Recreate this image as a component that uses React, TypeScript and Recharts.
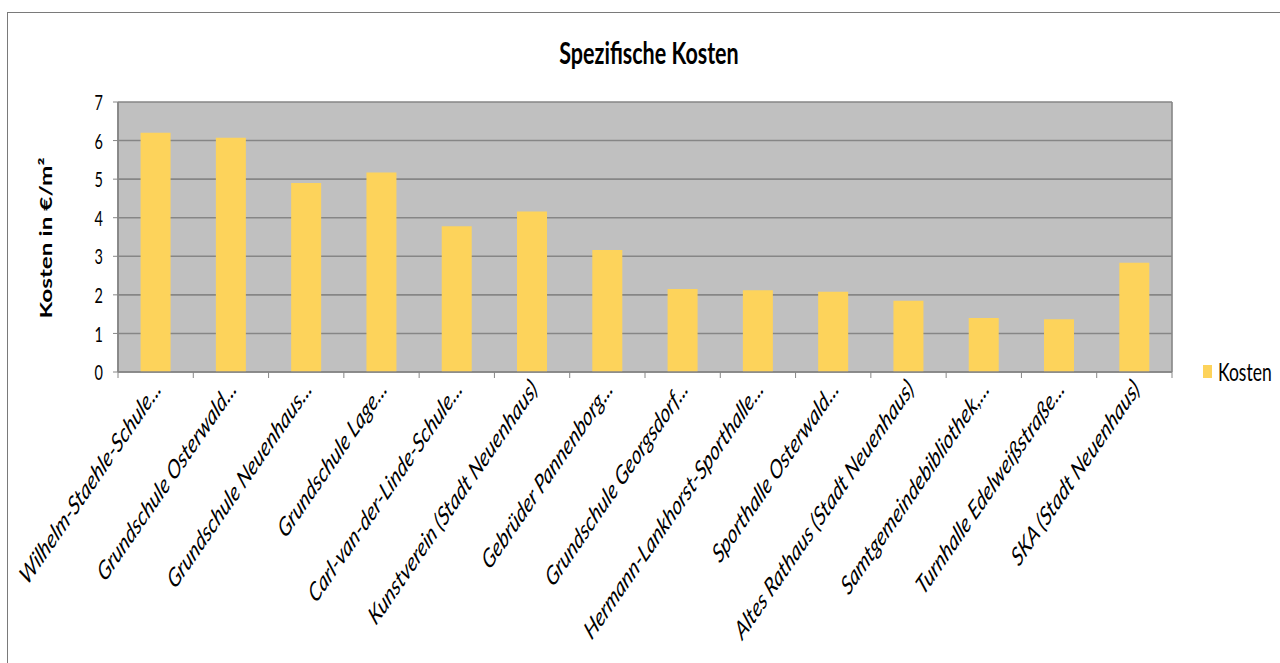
import React from 'react';
import { BarChart, Bar, XAxis, YAxis, CartesianGrid, Legend } from 'recharts';

const categories = [
  'Wilhelm-Staehle-Schule...',
  'Grundschule Osterwald...',
  'Grundschule Neuenhaus...',
  'Grundschule Lage...',
  'Carl-van-der-Linde-Schule...',
  'Kunstverein (Stadt Neuenhaus)',
  'Gebrüder Pannenborg...',
  'Grundschule Georgsdorf...',
  'Hermann-Lankhorst-Sporthalle...',
  'Sporthalle Osterwald...',
  'Altes Rathaus (Stadt Neuenhaus)',
  'Samtgemeindebibliothek,...',
  'Turnhalle Edelweißstraße...',
  'SKA (Stadt Neuenhaus)',
];
const kosten = [6.2, 6.07, 4.9, 5.17, 3.78, 4.16, 3.16, 2.15, 2.12, 2.08, 1.85, 1.4, 1.37, 2.83];
const yTicks = [0, 1, 2, 3, 4, 5, 6, 7];

const seriesName = 'Kosten';
const titleText = 'Spezifische Kosten';
const yLabelText = 'Kosten in €/m²';

const data = categories.map((name, i) => ({ name, Kosten: kosten[i] }));

const FONT = 'Lato, "Open Sans", sans-serif';
const GRID = '#868686';
const BAR = '#FDD35B';
const SY = 1.45;

const XTick = (props: any) => {
  const { x, y, payload, index } = props;
  const off = payload?.offset ?? 0;
  const last = index === categories.length - 1;
  const ax = x + 2;
  const ay = y + 12;
  return (
    <g>
      <line x1={x - off} x2={x - off} y1={y} y2={y + 6} stroke={GRID} strokeWidth={1} />
      {last && <line x1={x + off} x2={x + off} y1={y} y2={y + 6} stroke={GRID} strokeWidth={1} />}
      <text
        x={0}
        y={0}
        textAnchor="end"
        dy="0.35em"
        fontFamily={FONT}
        fontStyle="italic"
        fontSize={18}
        fill="#000"
        transform={`translate(${ax}, ${ay}) scale(1, ${SY}) rotate(-45)`}
      >
        {payload.value}
      </text>
    </g>
  );
};

const YTick = (props: any) => {
  const { x, y, payload } = props;
  return (
    <text
      x={0}
      y={0}
      textAnchor="end"
      dominantBaseline="central"
      fontFamily={FONT}
      fontSize={14.5}
      fill="#000"
      transform={`translate(${x}, ${y}) scale(1, ${SY})`}
    >
      {payload.value}
    </text>
  );
};

const LegendContent = () => (
  <div
    style={{
      display: 'flex',
      alignItems: 'center',
      width: 85,
      fontFamily: FONT,
      fontSize: 17.5,
      color: '#000',
      whiteSpace: 'nowrap',
    }}
  >
    <span style={{ display: 'inline-block', flexShrink: 0, width: 9, height: 13, background: BAR, marginRight: 6 }} />
    <span style={{ display: 'inline-block', flexShrink: 0, transform: `scaleY(${SY})` }}>{seriesName}</span>
  </div>
);

export default function App() {
  return (
    <div style={{ position: 'absolute', left: 0, top: 0, width: 1280, height: 663, background: '#fff', overflow: 'hidden' }}>
      <div
        style={{
          position: 'absolute',
          left: 7,
          top: 12,
          width: 1273,
          height: 651,
          borderLeft: '1px solid #7a7a7a',
          borderTop: '1px solid #7a7a7a',
        }}
      >
        <div
          style={{
            position: 'absolute',
            left: 0,
            top: 24,
            width: 1282,
            textAlign: 'center',
            fontFamily: FONT,
            fontWeight: 700,
            fontSize: 21.5,
            lineHeight: '30px',
            color: '#000',
            transform: `scaleY(${SY})`,
          }}
        >
          {titleText}
        </div>
        <BarChart
          width={1272}
          height={650}
          data={data}
          margin={{ top: 89, right: 108, bottom: 11, left: 60 }}
          barCategoryGap="30%"
        >
          <CartesianGrid
            fill="#C0C0C0"
            stroke={GRID}
            strokeWidth={1.6}
            vertical={true}
            verticalCoordinatesGenerator={({ offset }: any) => [offset.left, offset.left + offset.width]}
          />
          <XAxis
            dataKey="name"
            interval={0}
            height={280}
            tickLine={false}
            tickSize={0}
            tickMargin={0}
            axisLine={{ stroke: GRID, strokeWidth: 1.6 }}
            tick={<XTick />}
          />
          <YAxis
            width={50}
            domain={[0, 7]}
            ticks={yTicks}
            interval={0}
            tickSize={5}
            tickMargin={10}
            axisLine={{ stroke: GRID, strokeWidth: 1.6 }}
            tickLine={{ stroke: GRID }}
            tick={<YTick />}
            label={{
              content: ({ viewBox }: any) => {
                const cx = viewBox.x - 23;
                const cy = viewBox.y + viewBox.height / 2 + 1;
                return (
                  <text
                    x={0}
                    y={0}
                    textAnchor="middle"
                    dominantBaseline="central"
                    fontFamily={FONT}
                    fontWeight={700}
                    fontSize={16.8}
                    fill="#000"
                    transform={`translate(${cx}, ${cy}) scale(1, ${SY}) rotate(-90)`}
                  >
                    {yLabelText}
                  </text>
                );
              },
            }}
          />
          <Legend
            layout="vertical"
            verticalAlign="middle"
            align="right"
            content={<LegendContent />}
            wrapperStyle={{ position: 'absolute', left: 1195, top: 348, width: 0, height: 0, overflow: 'visible' }}
          />
          <Bar dataKey="Kosten" name={seriesName} fill={BAR} isAnimationActive={false} />
        </BarChart>
      </div>
    </div>
  );
}
